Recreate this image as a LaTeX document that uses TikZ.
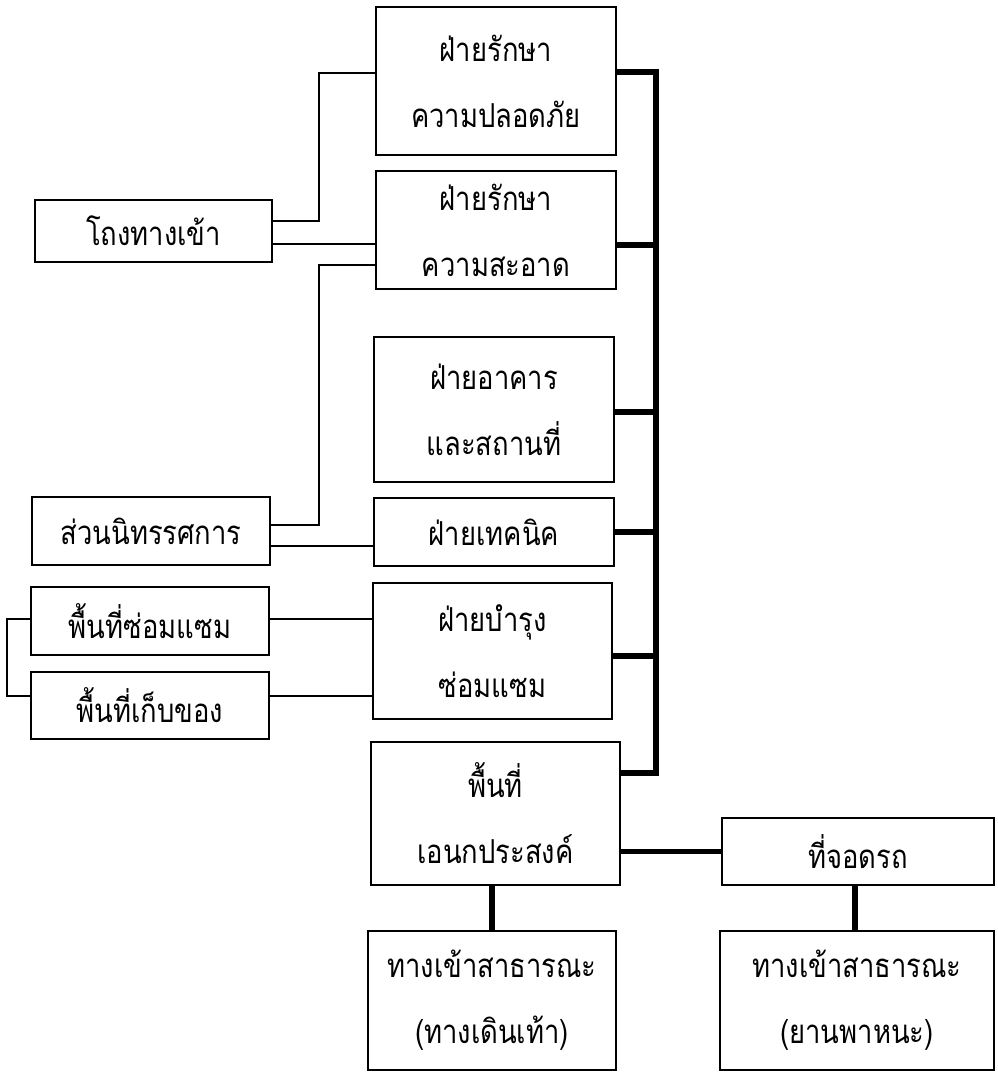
\documentclass[tikz,border=0pt]{standalone}
\usepackage{fontspec}
\newfontfamily\thaifont[Script=Thai,FakeStretch=0.83]{Loma}
\usetikzlibrary{positioning}

\begin{document}
\begin{tikzpicture}[x=0.5pt,y=-0.5pt]
\tikzset{
  unit/.style={draw, line width=0.9pt, inner sep=0pt, align=center,
    font=\thaifont\fontsize{16.5}{33}\selectfont},
  link/.style={line width=0.9pt},
  bus/.style={line width=2.8pt}
}
\useasboundingbox (0,0) rectangle (997,1074);
% right column
\node [unit, minimum width=120pt, minimum height=74pt] (safety) at (496,81) {ฝ่ายรักษา\\ความปลอดภัย};
\node [unit, minimum width=120pt, minimum height=59pt] (clean) at (496,230) {ฝ่ายรักษา\\ความสะอาด};
\node [unit, minimum width=120pt, minimum height=72.5pt] (building) at (494,409.5) {ฝ่ายอาคาร\\และสถานที่};
\node [unit, minimum width=120pt, minimum height=34pt] (tech) at (494,532) {ฝ่ายเทคนิค};
\node [unit, minimum width=119.5pt, minimum height=68pt] (maint) at (492.5,651) {ฝ่ายบำรุง\\ซ่อมแซม};
\node [unit, minimum width=124.5pt, minimum height=71.5pt] (multi) at (495.5,813.5) {พื้นที่\\เอนกประสงค์};
\node [unit, minimum width=124pt, minimum height=69.5pt] (walkin) at (492,1000.5) {ทางเข้าสาธารณะ\\(ทางเดินเท้า)};
\node [unit, minimum width=136pt, minimum height=33.5pt] (parking) at (858,851.5) {ที่จอดรถ};
\node [unit, minimum width=137pt, minimum height=69.5pt] (carin) at (857,1000.5) {ทางเข้าสาธารณะ\\(ยานพาหนะ)};
% left column
\node [unit, minimum width=118.5pt, minimum height=31pt] (lobby) at (153.5,231) {โถงทางเข้า};
\node [unit, minimum width=119pt, minimum height=34pt] (expo) at (151,531) {ส่วนนิทรรศการ};
\node [unit, minimum width=119pt, minimum height=34pt] (repair) at (150,621) {พื้นที่ซ่อมแซม};
\node [unit, minimum width=119pt, minimum height=33.5pt] (store) at (150,705.5) {พื้นที่เก็บของ};
% thin links
\draw [link] ([yshift=5pt]lobby.east) -| ([xshift=-28pt,yshift=4pt]safety.west) -- ([yshift=4pt]safety.west);
\draw [link] ([yshift=-6.5pt]lobby.east) -- ([yshift=-6.5pt]lobby.east -| clean.west);
\draw [link] ([yshift=-17.5pt]clean.west) -| ([xshift=24pt,yshift=3pt]expo.east) -- ([yshift=3pt]expo.east);
\draw [link] ([yshift=-7.5pt]expo.east) -- ([yshift=-7.5pt]expo.east -| tech.west);
\draw [link] ([yshift=1pt]repair.east) -- ([yshift=1pt]repair.east -| maint.west);
\draw [link] ([yshift=4.75pt]store.east) -- ([yshift=4.75pt]store.east -| maint.west);
\draw [link] ([yshift=1pt]repair.west) -- ++(-11.5pt,0) |- ([yshift=4.75pt]store.west);
% thick bus
\draw [bus] ([yshift=4.5pt]safety.east) -- ++(19.5pt,0) coordinate (bustop) |- ([yshift=20.25pt]multi.east);
\draw [bus] ([yshift=-7.5pt]clean.east) -- ([yshift=-7.5pt]clean.east -| bustop);
\draw [bus] ([yshift=-1.25pt]building.east) -- ([yshift=-1.25pt]building.east -| bustop);
\draw [bus] (tech.east) -- (tech.east -| bustop);
\draw [bus] ([yshift=-2.5pt]maint.east) -- ([yshift=-2.5pt]maint.east -| bustop);
\draw [bus] (parking.west) -- (parking.west -| multi.east);
\draw [bus] (walkin.north |- multi.south) -- (walkin.north);
\draw [bus] ([xshift=-1.5pt]parking.south) -- ([xshift=-1.5pt]parking.south |- carin.north);
\end{tikzpicture}
\end{document}
